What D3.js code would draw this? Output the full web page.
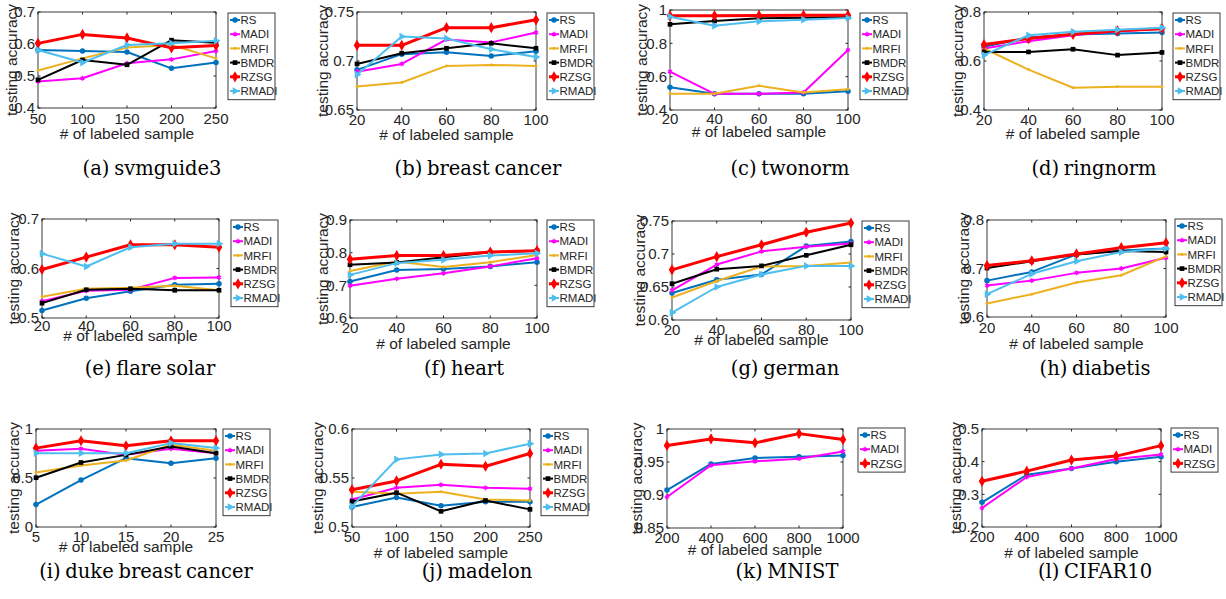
<!DOCTYPE html>
<html>
<head>
<meta charset="utf-8">
<script src="https://cdn.jsdelivr.net/npm/d3@7"></script>
<style>
body { margin: 0; background: #fff; }
text { font-family: "Liberation Sans", Arial, sans-serif; fill: #262626; }
.caption { font-family: "DejaVu Serif", serif; fill: #000; }
</style>
</head>
<body>
<svg id="fig" width="1226" height="599"></svg>
<script>
// methods, in plotting order
const methods = ["RS", "MADI", "MRFI", "BMDR", "RZSG", "RMADI"];
const methodColors = ["#0072bd", "#ff00ff", "#edb120", "#000000", "#ff0000", "#4dbeee"];

// x values
const x50 = [50, 100, 150, 200, 250];
const x20 = [20, 40, 60, 80, 100];
const x5 = [5, 10, 15, 20, 25];
const x200 = [200, 400, 600, 800, 1000];

// testing accuracy, one row per method
const accSvmguide3 = [
	[0.581, 0.578, 0.575, 0.524, 0.542],
	[0.483, 0.493, 0.540, 0.552, 0.578],
	[0.517, 0.555, 0.589, 0.597, 0.555],
	[0.488, 0.550, 0.535, 0.612, 0.604],
	[0.602, 0.630, 0.619, 0.588, 0.595],
	[0.581, 0.542, 0.597, 0.602, 0.610]
];
const accBreastCancer = [
	[0.691, 0.707, 0.709, 0.705, 0.710],
	[0.689, 0.697, 0.722, 0.719, 0.729],
	[0.674, 0.678, 0.695, 0.696, 0.695],
	[0.697, 0.708, 0.713, 0.718, 0.713],
	[0.716, 0.716, 0.734, 0.734, 0.742],
	[0.686, 0.725, 0.723, 0.712, 0.704]
];
const accTwonorm = [
	[0.536, 0.497, 0.497, 0.497, 0.512],
	[0.630, 0.497, 0.497, 0.505, 0.760],
	[0.497, 0.497, 0.545, 0.505, 0.524],
	[0.914, 0.934, 0.950, 0.954, 0.958],
	[0.965, 0.966, 0.967, 0.968, 0.969],
	[0.960, 0.905, 0.932, 0.942, 0.952]
];
const accRingnorm = [
	[0.658, 0.696, 0.708, 0.712, 0.716],
	[0.651, 0.681, 0.705, 0.721, 0.732],
	[0.651, 0.565, 0.491, 0.495, 0.495],
	[0.637, 0.637, 0.648, 0.624, 0.635],
	[0.667, 0.692, 0.709, 0.723, 0.732],
	[0.624, 0.705, 0.719, 0.728, 0.736]
];
const accFlareSolar = [
	[0.515, 0.540, 0.554, 0.567, 0.569],
	[0.534, 0.555, 0.557, 0.581, 0.582],
	[0.543, 0.559, 0.561, 0.565, 0.556],
	[0.530, 0.557, 0.559, 0.556, 0.556],
	[0.598, 0.623, 0.648, 0.648, 0.643],
	[0.630, 0.604, 0.643, 0.650, 0.650]
];
const accHeart = [
	[0.712, 0.747, 0.750, 0.758, 0.771],
	[0.699, 0.720, 0.737, 0.758, 0.783],
	[0.744, 0.773, 0.756, 0.771, 0.793],
	[0.763, 0.770, 0.786, 0.801, 0.806],
	[0.780, 0.791, 0.791, 0.802, 0.806],
	[0.732, 0.768, 0.778, 0.791, 0.798]
];
const accGerman = [
	[0.641, 0.661, 0.669, 0.712, 0.719],
	[0.645, 0.684, 0.704, 0.711, 0.716],
	[0.634, 0.659, 0.681, 0.682, 0.687],
	[0.655, 0.677, 0.682, 0.698, 0.714],
	[0.676, 0.696, 0.714, 0.733, 0.747],
	[0.611, 0.650, 0.669, 0.682, 0.682]
];
const accDiabetis = [
	[0.675, 0.693, 0.729, 0.737, 0.741],
	[0.665, 0.675, 0.691, 0.700, 0.722],
	[0.628, 0.647, 0.671, 0.686, 0.725],
	[0.701, 0.715, 0.729, 0.736, 0.734],
	[0.706, 0.716, 0.730, 0.743, 0.753],
	[0.647, 0.689, 0.715, 0.734, 0.741]
];
const accDuke = [
	[0.229, 0.479, 0.702, 0.651, 0.702],
	[0.777, 0.798, 0.736, 0.798, 0.753],
	[0.555, 0.627, 0.678, 0.839, 0.777],
	[0.503, 0.658, 0.736, 0.822, 0.753],
	[0.805, 0.880, 0.829, 0.880, 0.880],
	[0.753, 0.753, 0.753, 0.856, 0.805]
];
const accMadelon = [
	[0.5205, 0.530, 0.5216, 0.5257, 0.5257],
	[0.528, 0.540, 0.543, 0.540, 0.539],
	[0.536, 0.534, 0.536, 0.528, 0.527],
	[0.526, 0.535, 0.516, 0.527, 0.518],
	[0.538, 0.547, 0.564, 0.562, 0.575],
	[0.521, 0.569, 0.574, 0.575, 0.585]
];
const accMnist = [
	[0.9075, 0.947, 0.956, 0.958, 0.960],
	[0.897, 0.945, 0.951, 0.955, 0.966],
	[0.975, 0.985, 0.979, 0.993, 0.984]
];
const accCifar = [
	[0.2755, 0.360, 0.379, 0.400, 0.415],
	[0.258, 0.353, 0.379, 0.408, 0.422],
	[0.340, 0.371, 0.405, 0.417, 0.449]
];

const all6 = [0, 1, 2, 3, 4, 5];
const three = [0, 1, 4];

const panels = [
	{cap: "(a) svmguide3", xs: x50, acc: accSvmguide3, used: all6, yd: [0.4, 0.7], yt: [0.4, 0.5, 0.6, 0.7]},
	{cap: "(b) breast cancer", xs: x20, acc: accBreastCancer, used: all6, yd: [0.65, 0.75], yt: [0.65, 0.7, 0.75]},
	{cap: "(c) twonorm", xs: x20, acc: accTwonorm, used: all6, yd: [0.4, 1], yt: [0.4, 0.6, 0.8, 1]},
	{cap: "(d) ringnorm", xs: x20, acc: accRingnorm, used: all6, yd: [0.4, 0.8], yt: [0.4, 0.6, 0.8]},
	{cap: "(e) flare solar", xs: x20, acc: accFlareSolar, used: all6, yd: [0.5, 0.7], yt: [0.5, 0.6, 0.7]},
	{cap: "(f) heart", xs: x20, acc: accHeart, used: all6, yd: [0.6, 0.9], yt: [0.6, 0.7, 0.8, 0.9]},
	{cap: "(g) german", xs: x20, acc: accGerman, used: all6, yd: [0.6, 0.75], yt: [0.6, 0.65, 0.7, 0.75]},
	{cap: "(h) diabetis", xs: x20, acc: accDiabetis, used: all6, yd: [0.6, 0.8], yt: [0.6, 0.7, 0.8]},
	{cap: "(i) duke breast cancer", xs: x5, acc: accDuke, used: all6, yd: [0, 1], yt: [0, 0.5, 1]},
	{cap: "(j) madelon", xs: x50, acc: accMadelon, used: all6, yd: [0.5, 0.6], yt: [0.5, 0.55, 0.6]},
	{cap: "(k) MNIST", xs: x200, acc: accMnist, used: three, yd: [0.85, 1], yt: [0.85, 0.9, 0.95, 1]},
	{cap: "(l) CIFAR10", xs: x200, acc: accCifar, used: three, yd: [0.2, 0.5], yt: [0.2, 0.3, 0.4, 0.5]}
];

// pixel boxes of each subplot (left, right, top, bottom), legend corner, label offsets
const boxes = [
	{L: 38, R: 216, T: 12, B: 108, lx: 228, ly: 13, yl: 26, tk: 119, xl: 134, cx: 152, cy: 168},
	{L: 357, R: 536, T: 12, B: 110, lx: 547, ly: 13, yl: 34, tk: 120, xl: 135, cx: 478, cy: 168},
	{L: 670, R: 848, T: 10, B: 110, lx: 860, ly: 13, yl: 28, tk: 119, xl: 132, cx: 790, cy: 168},
	{L: 984, R: 1162, T: 12, B: 110, lx: 1173, ly: 13, yl: 26, tk: 120, xl: 134, cx: 1094, cy: 168},
	{L: 42, R: 219, T: 219, B: 318, lx: 231, ly: 220, yl: 28, tk: 326, xl: 336, cx: 150, cy: 368},
	{L: 350, R: 537, T: 220, B: 318, lx: 547, ly: 220, yl: 27, tk: 328, xl: 344, cx: 464, cy: 368},
	{L: 672, R: 851, T: 221, B: 320, lx: 862, ly: 221, yl: 32, tk: 330, xl: 340, cx: 785, cy: 368},
	{L: 987, R: 1166, T: 220, B: 317, lx: 1175, ly: 219, yl: 23, tk: 328, xl: 344, cx: 1095, cy: 368},
	{L: 36, R: 216, T: 429, B: 527, lx: 223, ly: 429, yl: 22, tk: 537, xl: 547, cx: 146, cy: 571},
	{L: 352, R: 530, T: 429, B: 527, lx: 541, ly: 429, yl: 34, tk: 537, xl: 553, cx: 477, cy: 571},
	{L: 667, R: 843, T: 429, B: 528, lx: 858, ly: 428, yl: 30, tk: 538, xl: 550, cx: 787, cy: 571},
	{L: 982, R: 1161, T: 429, B: 527, lx: 1171, ly: 428, yl: 26, tk: 537, xl: 553, cx: 1095, cy: 571}
];

const svg = d3.select("#fig");
const axisColor = "#262626";

function marker(g, m, x, y) {
	const col = methodColors[m];
	const s = g.append("path").attr("transform", `translate(${x},${y})`);
	if (m === 0) s.attr("d", d3.symbol(d3.symbolCircle, 24)()).attr("fill", col);
	if (m === 1) s.attr("d", d3.symbol(d3.symbolAsterisk, 16)()).attr("stroke", col).attr("stroke-width", 1.4).attr("fill", "none");
	if (m === 2) s.attr("d", d3.symbol(d3.symbolCircle, 7)()).attr("fill", col);
	if (m === 3) s.attr("d", d3.symbol(d3.symbolSquare, 22)()).attr("fill", col);
	if (m === 4) s.attr("d", d3.symbol(d3.symbolDiamond, 36)()).attr("fill", col);
	if (m === 5) s.attr("d", d3.symbol(d3.symbolTriangle, 26)())
		.attr("transform", `translate(${x},${y}) rotate(90)`).attr("fill", col);
}

function drawPanel(p, b) {
	const g = svg.append("g");
	const xScale = d3.scaleLinear().domain(d3.extent(p.xs)).range([b.L, b.R]);
	const yScale = d3.scaleLinear().domain(p.yd).range([b.B, b.T]);

	// box
	g.append("rect")
		.attr("x", b.L).attr("y", b.T)
		.attr("width", b.R - b.L).attr("height", b.B - b.T)
		.attr("fill", "none").attr("stroke", axisColor).attr("stroke-width", 0.9);

	// ticks inward on all four sides
	const tl = 2.5;
	p.xs.forEach(v => {
		const x = xScale(v);
		g.append("line").attr("x1", x).attr("x2", x).attr("y1", b.B).attr("y2", b.B - tl).attr("stroke", axisColor);
		g.append("line").attr("x1", x).attr("x2", x).attr("y1", b.T).attr("y2", b.T + tl).attr("stroke", axisColor);
		g.append("text").attr("x", x).attr("y", b.tk).attr("dy", "0.35em")
			.attr("text-anchor", "middle").attr("font-size", 15).text(v);
	});
	p.yt.forEach(v => {
		const y = yScale(v);
		g.append("line").attr("x1", b.L).attr("x2", b.L + tl).attr("y1", y).attr("y2", y).attr("stroke", axisColor);
		g.append("line").attr("x1", b.R).attr("x2", b.R - tl).attr("y1", y).attr("y2", y).attr("stroke", axisColor);
		g.append("text").attr("x", b.L - 3).attr("y", y).attr("dy", "0.35em")
			.attr("text-anchor", "end").attr("font-size", 15).text(String(v));
	});

	// axis labels
	g.append("text").attr("x", (b.L + b.R) / 2).attr("y", b.xl).attr("dy", "0.35em")
		.attr("text-anchor", "middle").attr("font-size", 15.5).text("# of labeled sample");
	g.append("text")
		.attr("transform", `translate(${b.L - b.yl},${(b.T + b.B) / 2}) rotate(-90)`)
		.attr("dy", "0.35em").attr("text-anchor", "middle").attr("font-size", 15.5)
		.text("testing accuracy");

	// lines
	const line = d3.line().x((d, i) => xScale(p.xs[i])).y(d => yScale(d));
	p.used.forEach((m, k) => {
		g.append("path").datum(p.acc[k])
			.attr("d", line)
			.attr("fill", "none")
			.attr("stroke", methodColors[m])
			.attr("stroke-width", m === 4 ? 3 : 2)
			.attr("stroke-linejoin", "round");
		p.acc[k].forEach((v, i) => marker(g, m, xScale(p.xs[i]), yScale(v)));
	});

	// legend
	const rowH = 14.2;
	const lw = 47;
	const lh = p.used.length * rowH + 1.5;
	g.append("rect").attr("x", b.lx).attr("y", b.ly).attr("width", lw).attr("height", lh)
		.attr("fill", "#fff").attr("stroke", axisColor).attr("stroke-width", 0.9);
	p.used.forEach((m, k) => {
		const y = b.ly + 7 + k * rowH;
		g.append("line").attr("x1", b.lx + 2).attr("x2", b.lx + 12).attr("y1", y).attr("y2", y)
			.attr("stroke", methodColors[m]).attr("stroke-width", m === 4 ? 3 : 2);
		marker(g, m, b.lx + 7, y);
		g.append("text").attr("x", b.lx + 12.5).attr("y", y).attr("dy", "0.36em")
			.attr("font-size", 11.5).attr("fill", "#000").text(methods[m]);
	});

	// caption
	svg.append("text").attr("class", "caption")
		.attr("x", b.cx).attr("y", b.cy).attr("dy", "0.35em")
		.attr("text-anchor", "middle").attr("font-size", 19.5)
		.attr("word-spacing", -1.5).text(p.cap);
}

panels.forEach((p, i) => drawPanel(p, boxes[i]));
</script>
</body>
</html>
